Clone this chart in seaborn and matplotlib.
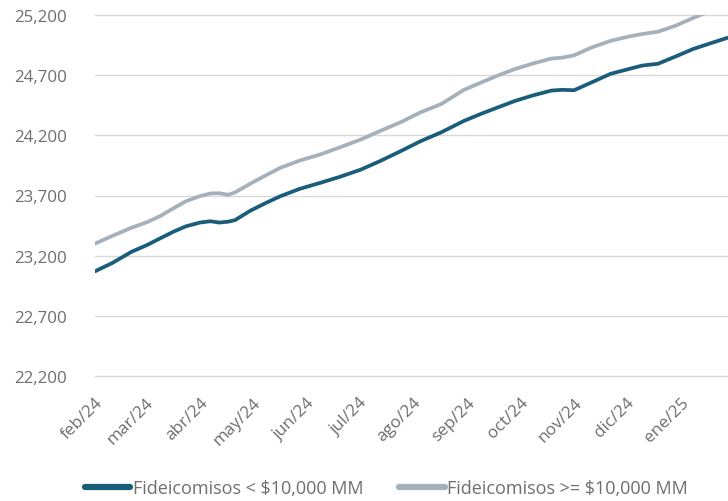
import matplotlib
matplotlib.use("Agg")
import matplotlib.pyplot as plt
import pandas as pd
import seaborn as sns

# Observation dates and levels for the two fund-size groups
dates = [
    "2024-02-01", "2024-02-11", "2024-02-22", "2024-03-02", "2024-03-09",
    "2024-03-17", "2024-03-24", "2024-04-01", "2024-04-07", "2024-04-12",
    "2024-04-17", "2024-04-21", "2024-04-30", "2024-05-09", "2024-05-17",
    "2024-05-28", "2024-06-09", "2024-06-20", "2024-07-02", "2024-07-13",
    "2024-07-25", "2024-08-05", "2024-08-17", "2024-08-30", "2024-09-09",
    "2024-09-18", "2024-09-28", "2024-10-08", "2024-10-19", "2024-10-25",
    "2024-11-01", "2024-11-11", "2024-11-22", "2024-12-02", "2024-12-10",
    "2024-12-19", "2024-12-29", "2025-01-08", "2025-01-18", "2025-01-28",
]
small_funds = [
    23070, 23140, 23233, 23290, 23342,
    23400, 23444, 23475, 23486, 23475,
    23482, 23495, 23575, 23640, 23694,
    23755, 23806, 23855, 23915, 23986,
    24070, 24150, 24225, 24320, 24380,
    24430, 24485, 24530, 24572, 24578,
    24575, 24640, 24712, 24750, 24780,
    24795, 24855, 24917, 24965, 25012,
]
large_funds = [
    23300, 23365, 23433, 23480, 23527,
    23595, 23652, 23695, 23717, 23719,
    23706, 23725, 23800, 23870, 23930,
    23990, 24042, 24100, 24165, 24236,
    24310, 24390, 24460, 24578, 24640,
    24695, 24750, 24795, 24838, 24845,
    24865, 24930, 24986, 25020, 25042,
    25061, 25111, 25175, 25235, 25285,
]
series_names = ["Fideicomisos < $10,000 MM", "Fideicomisos >= $10,000 MM"]
month_ticks = [
    "2024-02-01", "2024-03-01", "2024-04-01", "2024-05-01", "2024-06-01",
    "2024-07-01", "2024-08-01", "2024-09-01", "2024-10-01", "2024-11-01",
    "2024-12-01", "2025-01-01",
]
month_labels = [
    "feb/24", "mar/24", "abr/24", "may/24", "jun/24", "jul/24",
    "ago/24", "sep/24", "oct/24", "nov/24", "dic/24", "ene/25",
]
y_ticks = [22200, 22700, 23200, 23700, 24200, 24700, 25200]

df = pd.concat([
    pd.DataFrame({"fecha": pd.to_datetime(dates), "valor": small_funds,
                  "serie": series_names[0]}),
    pd.DataFrame({"fecha": pd.to_datetime(dates), "valor": large_funds,
                  "serie": series_names[1]}),
])

sns.set_theme(style="white")
plt.rcParams["font.family"] = ["Open Sans", "DejaVu Sans"]
text_color = "#6e6e6e"

fig = plt.figure(figsize=(7.28, 5.02), dpi=100)
ax = fig.add_axes([95 / 728, 1 - 377 / 502, 1 - 95 / 728, (377 - 16) / 502])

palette = {series_names[0]: "#1a5d7b", series_names[1]: "#a6b0ba"}
sns.lineplot(data=df, x="fecha", y="valor", hue="serie", palette=palette,
             linewidth=2.7, ax=ax, legend=False)

ax.set_ylim(y_ticks[0], y_ticks[-1])
ax.set_yticks(y_ticks)
ax.set_yticklabels([f"{v:,}" for v in y_ticks])
ax.set_xlim(pd.Timestamp(dates[0]), pd.Timestamp(dates[-1]))
ax.set_xticks(pd.to_datetime(month_ticks))
ax.set_xticklabels(month_labels, rotation=45, ha="right",
                   rotation_mode="anchor")
ax.set_xlabel("")
ax.set_ylabel("")

ax.grid(axis="y", color="#d9d9d9", linewidth=1.0)
ax.grid(axis="x", visible=False)
for g in ax.get_ygridlines():
    g.set_clip_on(False)
for side in ax.spines.values():
    side.set_visible(False)
ax.tick_params(axis="y", length=0, pad=20, labelsize=12.2, labelcolor=text_color)
ax.tick_params(axis="x", length=0, pad=13, labelsize=12.3, labelcolor=text_color)

handles = [plt.Line2D([], [], color=palette[n], linewidth=4.5,
                      solid_capstyle="round") for n in series_names]
leg = fig.legend(handles, series_names, loc="lower center",
                 bbox_to_anchor=(0.531, -0.025), ncol=2, frameon=False,
                 fontsize=13, handlelength=2.5, handletextpad=0.15,
                 columnspacing=2.0)
for t in leg.get_texts():
    t.set_color(text_color)

fig.savefig("out.png", dpi=100)
